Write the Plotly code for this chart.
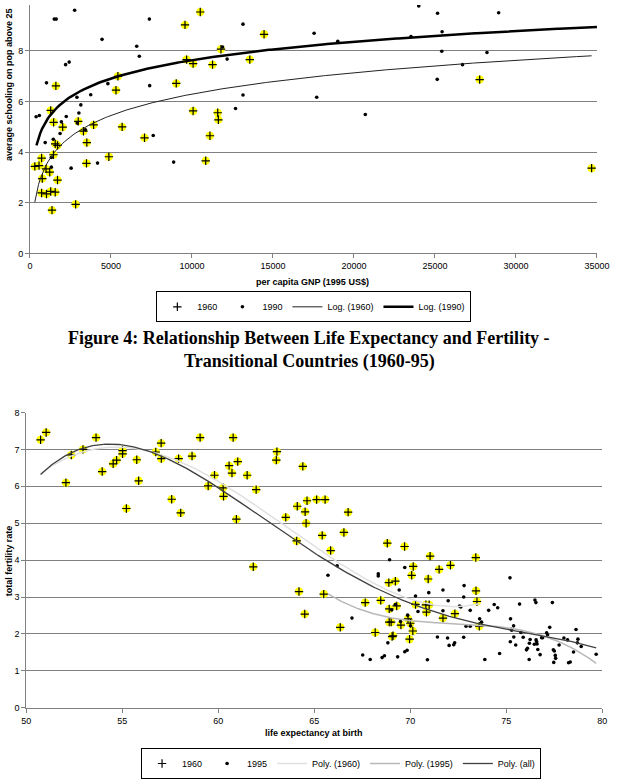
import numpy as np
import plotly.graph_objects as go

W, H = 626, 779

# ---------------- Top chart: schooling vs GNP ----------------
gnp_1960 = [300, 560, 720, 760, 720, 1020, 990, 1220, 1280, 1360,
            1280, 1460, 1600, 1450, 1560, 1700, 1560, 1700, 2020, 2820,
            2980, 3300, 3510, 3490, 3930, 4870, 5310, 5430, 5690, 7070,
            9030, 9570, 9670, 10070, 10070, 10510, 10850, 11110, 11270, 11590,
            11630, 11790, 13570, 14450, 27760, 34670]
school_1960 = [3.44, 3.47, 3.77, 2.96, 2.39, 2.35, 3.34, 3.21, 2.45, 1.71,
               5.65, 5.18, 6.62, 3.90, 4.33, 4.27, 2.42, 2.90, 4.99, 1.94,
               5.22, 4.83, 4.38, 3.56, 5.08, 3.82, 6.45, 7.00, 5.00, 4.57,
               6.72, 9.03, 7.66, 7.50, 5.63, 9.54, 3.66, 4.65, 7.46, 5.56,
               5.28, 8.07, 7.66, 8.66, 6.87, 3.37]
gnp_1990 = [380, 580, 940, 1020, 1320, 1320, 1440, 1500, 1620, 1860,
            1940, 2200, 2420, 2240, 2540, 2760, 2900, 3020, 3140, 2920,
            3420, 3750, 4170, 4450, 4810, 6590, 6750, 7370, 7390, 7610,
            8870, 11890, 12170, 12690, 13150, 13150, 17540, 17700, 19000, 20700,
            23520, 24000, 25160, 25440, 25420, 25140, 26700, 28210, 28930]
school_1990 = [5.40, 5.45, 4.38, 6.74, 3.79, 3.41, 4.51, 9.26, 9.26, 4.74,
               5.20, 7.46, 7.56, 5.41, 3.37, 9.61, 6.17, 5.55, 5.87, 5.15,
               4.89, 6.27, 3.57, 8.46, 6.71, 8.19, 7.79, 9.26, 6.63, 4.66,
               3.61, 8.16, 7.68, 5.73, 9.06, 6.26, 8.70, 6.17, 8.38, 5.49,
               8.57, 9.78, 9.49, 8.76, 7.99, 6.88, 7.46, 7.94, 9.51]
log1960_gnp = [300, 4450, 10000, 34670]
log1960_val = [2.00, 5.37, 6.32, 7.76]
log1990_gnp = [400, 2060, 10000, 35000]
log1990_val = [4.26, 6.00, 7.63, 8.95]
gnp_ticks = [0, 5000, 10000, 15000, 20000, 25000, 30000, 35000]
school_ticks = [0, 2, 4, 6, 8]

# ---------------- Bottom chart: fertility vs life expectancy ----------------
le_1960 = [50.74, 51.03, 52.06, 52.34, 52.95, 53.63, 53.95, 54.52, 54.70, 55.01,
           55.01, 55.21, 55.75, 55.85, 56.74, 57.02, 57.03, 57.57, 57.93, 58.04,
           58.63, 59.05, 59.47, 59.80, 60.25, 60.27, 60.56, 60.71, 60.77, 60.94,
           61.01, 61.50, 61.82, 61.97, 63.02, 63.05, 63.51, 64.11, 64.08, 64.20,
           64.40, 64.52, 64.62, 64.57, 64.50, 65.12, 65.56, 66.76, 65.41, 66.54,
           65.85, 68.80, 69.70, 71.03, 73.41, 70.15, 70.07, 71.50, 72.09, 70.93,
           68.88, 69.22, 65.49, 66.35, 67.65, 68.17, 68.46, 68.90, 69.29, 68.90,
           69.00, 69.05, 69.10, 69.51, 69.88, 70.00, 70.13, 69.96, 70.27, 70.81,
           70.98, 70.84, 71.70, 72.32, 73.42, 73.47, 73.59]
tfr_1960 = [7.26, 7.46, 6.10, 6.85, 7.00, 7.32, 6.40, 6.61, 6.71, 6.88,
            6.97, 5.40, 6.72, 6.15, 6.93, 7.17, 6.75, 5.65, 6.75, 5.28,
            6.82, 7.32, 6.01, 6.30, 5.96, 5.73, 6.56, 6.36, 7.32, 5.11,
            6.67, 6.30, 3.82, 5.91, 6.71, 6.94, 5.16, 5.46, 4.52, 3.15,
            6.54, 5.31, 5.61, 5.00, 2.54, 5.64, 5.64, 5.30, 4.67, 4.75,
            4.26, 4.46, 4.37, 4.11, 4.07, 3.83, 3.59, 3.75, 3.86, 3.49,
            3.39, 3.43, 3.08, 2.18, 2.85, 2.04, 2.91, 2.68, 2.76, 2.32,
            2.32, 1.93, 1.95, 2.24, 2.41, 2.29, 2.08, 1.86, 2.80, 2.79,
            2.79, 2.59, 2.43, 2.55, 3.17, 2.88, 2.21]
le_1995 = [68.92, 66.19, 65.71, 68.33, 68.33, 69.71, 75.19, 69.42, 71.70, 72.80,
           70.96, 66.96, 67.52, 67.91, 68.53, 68.65, 68.83, 69.03, 69.22, 69.34,
           69.49, 69.71, 69.83, 69.86, 70.01, 70.27, 70.40, 70.89, 71.41, 71.94,
           71.97, 72.02, 72.26, 72.31, 71.70, 72.56, 72.63, 72.78, 72.78, 73.12,
           72.90, 73.12, 73.61, 73.71, 73.88, 74.08, 74.37, 74.55, 74.65, 75.22,
           75.26, 75.28, 75.38, 75.21, 75.39, 75.49, 75.69, 75.76, 75.88, 76.05,
           76.10, 76.19, 76.20, 76.24, 76.49, 76.54, 76.46, 76.55, 76.58, 76.60,
           76.64, 76.76, 76.84, 76.89, 77.10, 77.15, 77.26, 77.40, 77.45, 77.50,
           77.55, 77.57, 77.47, 77.75, 78.00, 78.19, 78.24, 78.33, 78.50, 78.63,
           78.70, 78.73, 78.90, 79.68]
tfr_1995 = [4.01, 3.85, 3.59, 3.63, 3.57, 3.80, 3.52, 3.19, 3.19, 3.31,
            3.12, 2.43, 1.43, 1.31, 1.36, 1.41, 1.76, 2.65, 2.80, 1.38,
            2.34, 1.52, 1.56, 2.51, 2.22, 3.03, 2.61, 1.30, 1.92, 1.89,
            2.90, 1.69, 1.71, 1.76, 2.63, 2.76, 2.73, 3.00, 1.91, 2.64,
            2.21, 2.21, 2.41, 2.32, 1.31, 2.64, 2.80, 2.71, 1.47, 2.41,
            2.13, 2.10, 2.22, 1.79, 1.92, 1.70, 2.81, 2.04, 1.91, 1.57,
            1.61, 1.31, 1.75, 1.85, 2.92, 2.85, 1.72, 1.84, 1.79, 1.73,
            1.58, 1.44, 1.90, 1.90, 2.03, 1.98, 2.18, 2.85, 1.57, 1.54,
            1.42, 1.34, 1.23, 1.70, 1.89, 1.84, 1.22, 1.24, 1.51, 2.12,
            1.76, 1.86, 1.66, 1.45]
poly1960_le = [50.74, 54.60, 59.00, 62.40, 64.06, 66.84, 69.10, 71.80, 73.59]
poly1960_tfr = [6.35, 7.05, 6.45, 5.30, 4.70, 3.80, 3.05, 2.80, 2.80]
poly1995_le = [65.71, 67.26, 68.95, 71.48, 75.36, 77.38, 79.68]
poly1995_tfr = [3.10, 2.66, 2.45, 2.32, 2.11, 1.89, 1.20]
polyall_le = [50.74, 54.62, 56.98, 59.00, 62.38, 65.58, 68.95, 72.32, 75.70, 79.68]
polyall_tfr = [6.33, 7.09, 6.85, 6.34, 5.11, 3.95, 3.06, 2.50, 2.02, 1.63]
le_ticks = [50, 55, 60, 65, 70, 75, 80]
tfr_ticks = [0, 1, 2, 3, 4, 5, 6, 7, 8]

FONT = "Arial, Liberation Sans, sans-serif"
GRID = "#808080"
YEL = "#ffff00"


def log_trend(xp, yp):
    b, a = np.polyfit(np.log(xp), yp, 1)
    xs = np.linspace(min(xp), max(xp), 300)
    return xs, a + b * np.log(xs)


def poly_trend(xp, yp, deg):
    c = np.polyfit(xp, yp, deg)
    xs = np.linspace(min(xp), max(xp), 300)
    return xs, np.polyval(c, xs)


fig = go.Figure()


def add_scatter(x, y, xa, ya, leg, name_plus, name_dot, x_dot, y_dot):
    fig.add_trace(go.Scatter(x=x, y=y, mode="markers", showlegend=False, hoverinfo="skip",
                             marker=dict(symbol="circle", size=8, color=YEL, line=dict(width=0)),
                             xaxis=xa, yaxis=ya))
    fig.add_trace(go.Scatter(x=x, y=y, mode="markers", name=name_plus, legend=leg,
                             marker=dict(symbol="cross-thin", size=6, color="black",
                                         line=dict(width=1.2, color="black")),
                             xaxis=xa, yaxis=ya))
    fig.add_trace(go.Scatter(x=x_dot, y=y_dot, mode="markers", name=name_dot, legend=leg,
                             marker=dict(symbol="circle", size=3.6, color="black"),
                             xaxis=xa, yaxis=ya))


add_scatter(gnp_1960, school_1960, "x", "y", "legend", "1960", "1990", gnp_1990, school_1990)
xs, ys = log_trend(log1960_gnp, log1960_val)
fig.add_trace(go.Scatter(x=xs, y=ys, mode="lines", name="Log. (1960)", legend="legend",
                         line=dict(color="#222222", width=1), xaxis="x", yaxis="y"))
xs, ys = log_trend(log1990_gnp, log1990_val)
fig.add_trace(go.Scatter(x=xs, y=ys, mode="lines", name="Log. (1990)", legend="legend",
                         line=dict(color="black", width=2.5), xaxis="x", yaxis="y"))

add_scatter(le_1960, tfr_1960, "x2", "y2", "legend2", "1960", "1995", le_1995, tfr_1995)
xs, ys = poly_trend(poly1960_le, poly1960_tfr, 4)
fig.add_trace(go.Scatter(x=xs, y=ys, mode="lines", name="Poly. (1960)", legend="legend2",
                         line=dict(color="#e0e0e0", width=1.5), xaxis="x2", yaxis="y2"))
xs, ys = poly_trend(poly1995_le, poly1995_tfr, 3)
fig.add_trace(go.Scatter(x=xs, y=ys, mode="lines", name="Poly. (1995)", legend="legend2",
                         line=dict(color="#b8b8b8", width=1.5), xaxis="x2", yaxis="y2"))
xs, ys = poly_trend(polyall_le, polyall_tfr, 4)
fig.add_trace(go.Scatter(x=xs, y=ys, mode="lines", name="Poly. (all)", legend="legend2",
                         line=dict(color="#404040", width=1.3), xaxis="x2", yaxis="y2"))

tickfont = dict(family=FONT, size=9, color="black")
axis_common = dict(showline=True, linecolor=GRID, linewidth=1, ticks="outside", ticklen=4,
                   tickcolor=GRID, tickfont=tickfont, zeroline=False, fixedrange=True,
                   tickformat="d")

top_y0 = 257.7
bot_y0, bot_y8 = 729.0, 422.7
legend_common = dict(orientation="h", xanchor="center", yanchor="top",
                     bordercolor="black", borderwidth=1, bgcolor="white",
                     font=dict(family=FONT, size=9, color="black"))
fig.update_layout(
    width=W, height=H, margin=dict(l=0, r=0, t=0, b=0),
    paper_bgcolor="white", plot_bgcolor="white",
    xaxis=dict(domain=[25.7 / W, 609.5 / W], range=[0, 35000], tickvals=gnp_ticks,
               showgrid=False, anchor="y", **axis_common),
    yaxis=dict(domain=[1 - top_y0 / H, 1], range=[0, top_y0 / 26.25], tickvals=school_ticks,
               showgrid=True, gridcolor=GRID, gridwidth=1, anchor="x", **axis_common),
    xaxis2=dict(domain=[22 / W, 615 / W], range=[50, 80], tickvals=le_ticks,
                showgrid=False, anchor="y2", **axis_common),
    yaxis2=dict(domain=[1 - bot_y0 / H, 1 - bot_y8 / H], range=[0, 8], tickvals=tfr_ticks,
                showgrid=True, gridcolor=GRID, gridwidth=1, anchor="x2", **axis_common),
    legend=dict(x=318 / W, y=1 - 297 / H, **legend_common),
    legend2=dict(x=346 / W, y=1 - 771 / H, **legend_common),
    showlegend=True,
)

ann = []


def px_ann(text, x, y, size=9, bold=True, angle=0, family=FONT):
    t = f"<b>{text}</b>" if bold else text
    ann.append(dict(text=t, x=x / W, y=1 - y / H, xref="paper", yref="paper",
                    xanchor="center", yanchor="middle", showarrow=False, textangle=angle,
                    font=dict(family=family, size=size, color="black")))


px_ann("per capita GNP (1995 US$)", 317, 287)
px_ann("average schooling on pop above 25", 4, 82, angle=-90)
px_ann("life expectancy at birth", 318, 755)
px_ann("total fertility rate", 4, 576, angle=-90)
SERIF = "Times New Roman, Liberation Serif, serif"
px_ann("Figure 4: Relationship Between Life Expectancy and Fertility -", 313, 345, size=18, family=SERIF)
px_ann("Transitional Countries (1960-95)", 313, 370, size=18, family=SERIF)
fig.update_layout(annotations=ann)

fig.write_html("out.html")
